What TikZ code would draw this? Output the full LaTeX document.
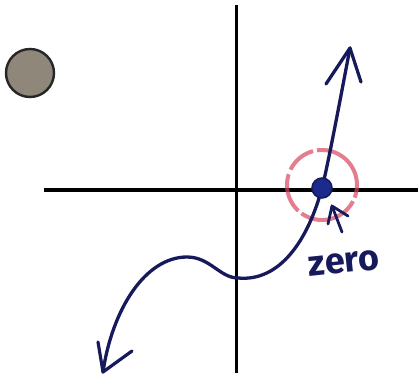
\documentclass[tikz,border=0pt]{standalone}
\usepackage{fontspec}
\newfontfamily\handfont{Fira Sans}
\begin{document}
\begin{tikzpicture}[x=1pt,y=-1pt,
  axis/.style={line width=3.6pt,black},
  curve/.style={line width=3.3pt,draw=navycol,line cap=round,line join=round},
  head/.style={line width=3.2pt,draw=navycol,line cap=round,line join=round}]
\definecolor{navycol}{HTML}{16195A}
\definecolor{dotcol}{HTML}{1C2A8C}
\definecolor{pinkred}{HTML}{D9465E}
\definecolor{pebble}{HTML}{8E877A}
\useasboundingbox (0,0) rectangle (418,380);
\fill[white] (0,0) rectangle (418,380);
% pebble
\node[circle,minimum size=48pt,inner sep=0pt,fill=pebble,draw=black!85,line width=2.4pt] (pebble) at (30,73) {};
% axes
\coordinate (vtop) at (236.5,5);
\coordinate (vbot) at (236.5,373);
\coordinate (hl) at (44,190);
\coordinate (hr) at (418,190);
\draw[axis] (vtop) -- (vbot);
\draw[axis] (hl) -- (hr);
% red circle
\node[circle,minimum size=70pt,inner sep=0pt,draw=pinkred,opacity=0.7,line width=4pt,dash pattern=on 60pt off 4pt on 30pt off 5pt on 40pt off 4pt] (ring) at (322,185) {};
% curve
\coordinate (tipB) at (103,372);
\coordinate (peak) at (187,257);
\coordinate (dip) at (238,278);
\coordinate (zero) at (322,188);
\coordinate (tipT) at (350,48);
\draw[curve] (tipB) .. controls (112,310) and (145,257) .. (peak)
  .. controls (210,257) and (220,278) .. (dip)
  .. controls (280,282) and (308,240) .. (zero)
  .. controls (328,165) and (342,90) .. (tipT);
% arrow heads
\coordinate (ta1) at (326,84);
\coordinate (ta2) at (361,82);
\draw[head] (ta1) -- (tipT) -- (ta2);
\coordinate (ba1) at (98,342);
\coordinate (ba2) at (132,351);
\draw[head] (ba1) -- (tipB) -- (ba2);
% zero dot
\node[circle,minimum size=20pt,inner sep=0pt,fill=dotcol,draw=navycol,line width=1.5pt] (dot) at (zero) {};
% small arrow
\coordinate (sa) at (332,206);
\coordinate (sa0) at (342,232);
\coordinate (sa1) at (328,224);
\coordinate (sa2) at (348,216);
\draw[head,line width=2.8pt] (sa0) -- (sa);
\draw[head,line width=2.8pt] (sa1) -- (sa) -- (sa2);
% label
\node[text=navycol,font=\handfont\bfseries\fontsize{36}{36}\selectfont,rotate=6,inner sep=0pt] (lbl) at (344,263) {zero};
\end{tikzpicture}
\end{document}
